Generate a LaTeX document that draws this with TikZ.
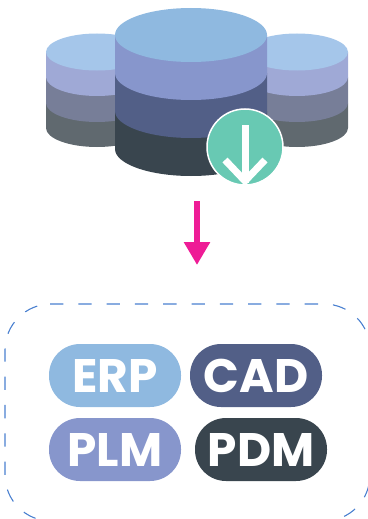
\documentclass[tikz,border=0pt]{standalone}
\usepackage{fontspec}
\setmainfont{Poppins}
\usepackage{xcolor}
\usetikzlibrary{positioning,arrows.meta}

\definecolor{skyblue}{HTML}{8FB9E0}
\definecolor{lavender}{HTML}{8796CC}
\definecolor{slateblue}{HTML}{525F87}
\definecolor{charcoal}{HTML}{39454E}
\definecolor{paleblue}{HTML}{A5C6EA}
\definecolor{palelav}{HTML}{9FA9D6}
\definecolor{greyblue}{HTML}{777E98}
\definecolor{greyslate}{HTML}{60696F}
\definecolor{badgeteal}{HTML}{68C9B3}
\definecolor{pinkarrow}{HTML}{EE1C96}
\definecolor{framedash}{HTML}{4A80D0}

% one disc of a stack: centre x, centre y of lower rim, half width, half height, rim above, colour
\newcommand{\stackband}[6]{%
  \fill[#6] (#1-#3,#5) -- (#1-#3,#2) arc[start angle=180, end angle=360, x radius=#3, y radius=-#4]
    -- (#1+#3,#5) -- cycle;}

\begin{document}
\begin{tikzpicture}[
    x=1pt, y=-1pt,
    pill/.style={rectangle, rounded corners=31pt, minimum width=132pt, minimum height=63pt, inner sep=0pt,
      text=white, font=\fontsize{47}{47}\selectfont\bfseries},
    frameline/.style={draw=framedash, line width=1.1pt, rounded corners=46pt},
    pointer/.style={-{Triangle[length=23pt, width=25pt]}, line width=6.5pt, pinkarrow},
    tick/.style={white, line width=7pt}
]
\useasboundingbox (0,0) rectangle (367,519);

% side stacks
\foreach \cx in {97,297} {
  \stackband{\cx}{128}{51}{19}{103}{greyslate}
  \stackband{\cx}{103}{51}{19}{77}{greyblue}
  \stackband{\cx}{77}{51}{19}{52}{palelav}
  \fill[paleblue] (\cx,52) ellipse[x radius=51, y radius=18.5];
}

% main stack
\stackband{191}{149}{76}{27}{111}{charcoal}
\stackband{191}{111}{76}{27}{73}{slateblue}
\stackband{191}{73}{76}{27}{35}{lavender}
\fill[skyblue] (191,35) ellipse[x radius=76, y radius=27];

% download badge
\node[circle, fill=badgeteal, draw=white, line width=1.5pt, minimum size=76pt, inner sep=0pt] (badge) at (245,147) {};
\begin{scope}
  \clip (245,147) circle[radius=37];
  \draw[tick] (245,125) -- (245,183);
  \draw[tick] (225,160) -- (245,181) -- (265,160);
\end{scope}

% arrow
\coordinate (top) at (197,201);
\coordinate (tip) at (197,265);
\draw[pointer] (top) -- (tip);

% frame, two runs from the same start
\coordinate (framestart) at (50,304);
\draw[frameline, dash pattern=on 13.3pt off 15pt] (framestart) -- (370,304) -- (370,521) -- (200,521);
\draw[frameline, dash pattern=on 13.3pt off 15pt, dash phase=13.3pt] (framestart) -- (5,304) -- (5,521) -- (200,521);

\node[pill, fill=skyblue] (erp) at (115,375.5) {ERP};
\node[pill, fill=slateblue] (cad) at (256,375.5) {CAD};
\node[pill, fill=lavender] (plm) at (115,449.5) {PLM};
\node[pill, fill=charcoal] (pdm) at (261,449.5) {PDM};

\end{tikzpicture}
\end{document}
